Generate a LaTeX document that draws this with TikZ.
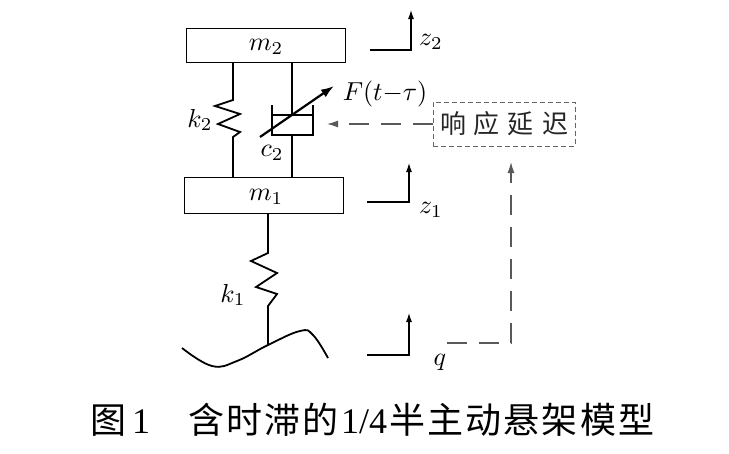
\documentclass[tikz,border=0pt]{standalone}
\usepackage{fontspec}
\newfontfamily\cjk{Noto Sans CJK SC}
\newfontfamily\tnr{Liberation Serif}
\usetikzlibrary{arrows.meta}
\newcommand{\bigmth}[1]{\scalebox{2.6}{$#1$}}
\begin{document}
\begin{tikzpicture}[x=1pt,y=-1pt,
  mass/.style={draw, line width=0.9pt, minimum width=159pt, inner sep=0pt},
  lbl/.style={font=\normalsize, inner sep=0pt},
  spring/.style={line width=1.8pt, line join=miter},
  damper/.style={line width=1.6pt},
  disp/.style={line width=1.1pt, -{Latex[length=9pt,width=6pt]}},
  fb/.style={draw=black!65, line width=1.3pt, dash pattern=on 20pt off 12pt},
  fbtip/.style={-{Latex[length=11pt,width=7pt,fill=black!65]}}]
\useasboundingbox (0,0) rectangle (729,453);

% masses
\node[mass, minimum height=34pt] (m2) at (265.5,45) {};
\node[mass, minimum height=36pt] (m1) at (263.5,195) {};
\node[lbl] (lm2) at (266,47) {\bigmth{m_2}};
\node[lbl] (lm1) at (266,197) {\bigmth{m_1}};

% spring k2
\coordinate (k2top) at (233,62);
\coordinate (k2bot) at (233,177);
\draw[spring] (k2top) -- (233,100) -- (215,106) -- (240,114) -- (218,124)
  -- (240,132) -- (233,137) -- (k2bot);
\node[lbl] (lk2) at (200,120) {\bigmth{k_2}};

% damper c2
\coordinate (c2top) at (292,62);
\coordinate (c2bot) at (292,177);
\draw[damper] (c2top) -- (292,115);
\draw[damper] (272,115) -- (313,115);
\draw[damper] (272,105) -- (272,135) -- (313,135) -- (313,105);
\draw[damper] (292,135) -- (c2bot);
\node[lbl] (lc2) at (272,153) {\bigmth{c_2}};
\coordinate (Fs) at (260,137);
\coordinate (Fe) at (334,86);
\draw[line width=2.2pt, -{Latex[length=13pt,width=9pt]}] (Fs) -- (Fe);
\node[lbl] (lF) at (385,94) {\bigmth{F(t{-}\tau)}};

% spring k1 and road
\coordinate (k1top) at (268,213);
\coordinate (road) at (268,345);
\draw[spring] (k1top) -- (268,253) -- (251,261) -- (277,273) -- (256,287)
  -- (277,294) -- (268,306) -- (road);
\node[lbl] (lk1) at (233,295) {\bigmth{k_1}};
\draw[line width=1.8pt] plot[smooth, tension=0.7] coordinates
  {(182,348) (212,366) (237,361) (268,345) (300,331) (313,335) (328,358)};

% delay box
\node[draw=black!60, line width=1pt, dash pattern=on 5pt off 3pt,
  minimum width=142pt, minimum height=44pt, inner sep=0pt,
  font=\cjk\fontsize{26}{30}\selectfont, text=black!85] (delay) at (504,124)
  {响\hspace{8pt}应\hspace{8pt}延\hspace{8pt}迟};
\coordinate (dampR) at (327,124);
\draw[fb, fbtip] (delay.west) -- (dampR);
\coordinate (qfb) at (447,343);
\coordinate (fbup) at (511,162);
\draw[fb, fbtip] (qfb) -- (511,343) -- (fbup);

% displacement arrows
\coordinate (z2s) at (370,50);
\coordinate (z2e) at (411,10);
\draw[disp] (z2s) -- (411,50) -- (z2e);
\node[lbl] (lz2) at (431,42) {\bigmth{z_2}};
\coordinate (z1s) at (367,202);
\coordinate (z1e) at (409,163);
\draw[disp] (z1s) -- (409,202) -- (z1e);
\node[lbl] (lz1) at (431,210) {\bigmth{z_1}};
\coordinate (qs) at (367,355);
\coordinate (qe) at (409,313);
\draw[disp] (qs) -- (409,355) -- (qe);
\node[lbl] (lq) at (440,362) {\bigmth{q}};

% caption
\node[anchor=base west, inner sep=0pt, font=\cjk\fontsize{36}{40}\selectfont] (cap1) at (90,433)
  {图\hspace{6pt}{\tnr 1}};
\node[anchor=base west, inner sep=0pt, font=\cjk\fontsize{36}{40}\selectfont] (cap2) at (188,433)
  {含\hspace{2.2pt}时\hspace{2.2pt}滞\hspace{2.2pt}的\hspace{2.2pt}{\tnr 1/4}\hspace{2.2pt}半\hspace{2.2pt}主\hspace{2.2pt}动\hspace{2.2pt}悬\hspace{2.2pt}架\hspace{2.2pt}模\hspace{2.2pt}型};
\end{tikzpicture}
\end{document}
